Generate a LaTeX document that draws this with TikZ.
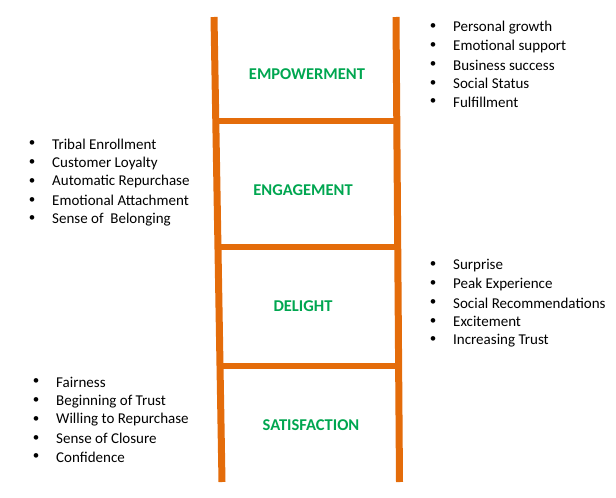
\documentclass[tikz,border=0pt]{standalone}
\usepackage{fontspec}
\setmainfont{Carlito}
\usetikzlibrary{calc}
\definecolor{ladderorange}{RGB}{228,108,10}
\definecolor{stagegreen}{RGB}{0,166,80}

\tikzset{
  rail/.style={draw=ladderorange, line width=7pt},
  rung/.style={draw=ladderorange, line width=6pt},
  stage/.style={text=stagegreen, font=\fontsize{16.5}{19}\selectfont\bfseries},
  item/.style={anchor=west, inner sep=0pt, font=\fontsize{15}{18}\selectfont},
  dot/.style={inner sep=0pt, font=\fontsize{13}{16}\selectfont}
}

\begin{document}
\begin{tikzpicture}[x=1pt, y=1pt]
\useasboundingbox (0,0) rectangle (616,-498);

% Ladder rails
\coordinate (lt) at (214,-17);
\coordinate (lb) at (222,-482);
\coordinate (rt) at (396,-17);
\coordinate (rb) at (399.5,-482);
\draw[rail] (lt) -- (lb);
\draw[rail] (rt) -- (rb);

% Rungs
\foreach \t in {0.224, 0.495, 0.751}
  \draw[rung] ($(lt)!\t!(lb)$) -- ($(rt)!\t!(rb)$);

% Stages
\node[stage] (empowerment) at (307,-74) {EMPOWERMENT};
\node[stage] (engagement) at (303,-190) {ENGAGEMENT};
\node[stage] (delight) at (303,-306) {DELIGHT};
\node[stage] (satisfaction) at (311,-425) {SATISFACTION};

% Empowerment list (right)
\foreach \txt [count=\i] in {Personal growth, Emotional support, Business success, Social Status, Fulfillment} {
  \node[dot] (bemp\i) at (433,-27-18.7*\i+18.7) {•};
  \node[item] (emp\i) at (453,-27.5-18.7*\i+18.7) {\txt};
}

% Engagement list (left)
\foreach \txt [count=\i] in {Tribal Enrollment, Customer Loyalty, Automatic Repurchase, Emotional Attachment, Sense of~~Belonging} {
  \node[dot] (beng\i) at (32,-144-18.7*\i+18.7) {•};
  \node[item] (eng\i) at (52,-144.5-18.7*\i+18.7) {\txt};
}

% Delight list (right)
\foreach \txt [count=\i] in {Surprise, Peak Experience, Social Recommendations, Excitement, Increasing Trust} {
  \node[dot] (bdel\i) at (433,-265-18.7*\i+18.7) {•};
  \node[item] (del\i) at (453,-265.5-18.7*\i+18.7) {\txt};
}

% Satisfaction list (left)
\foreach \txt [count=\i] in {Fairness, Beginning of Trust, Willing to Repurchase, Sense of Closure, Confidence} {
  \node[dot] (bsat\i) at (36,-382-18.7*\i+18.7) {•};
  \node[item] (sat\i) at (56,-382.5-18.7*\i+18.7) {\txt};
}
\end{tikzpicture}
\end{document}
